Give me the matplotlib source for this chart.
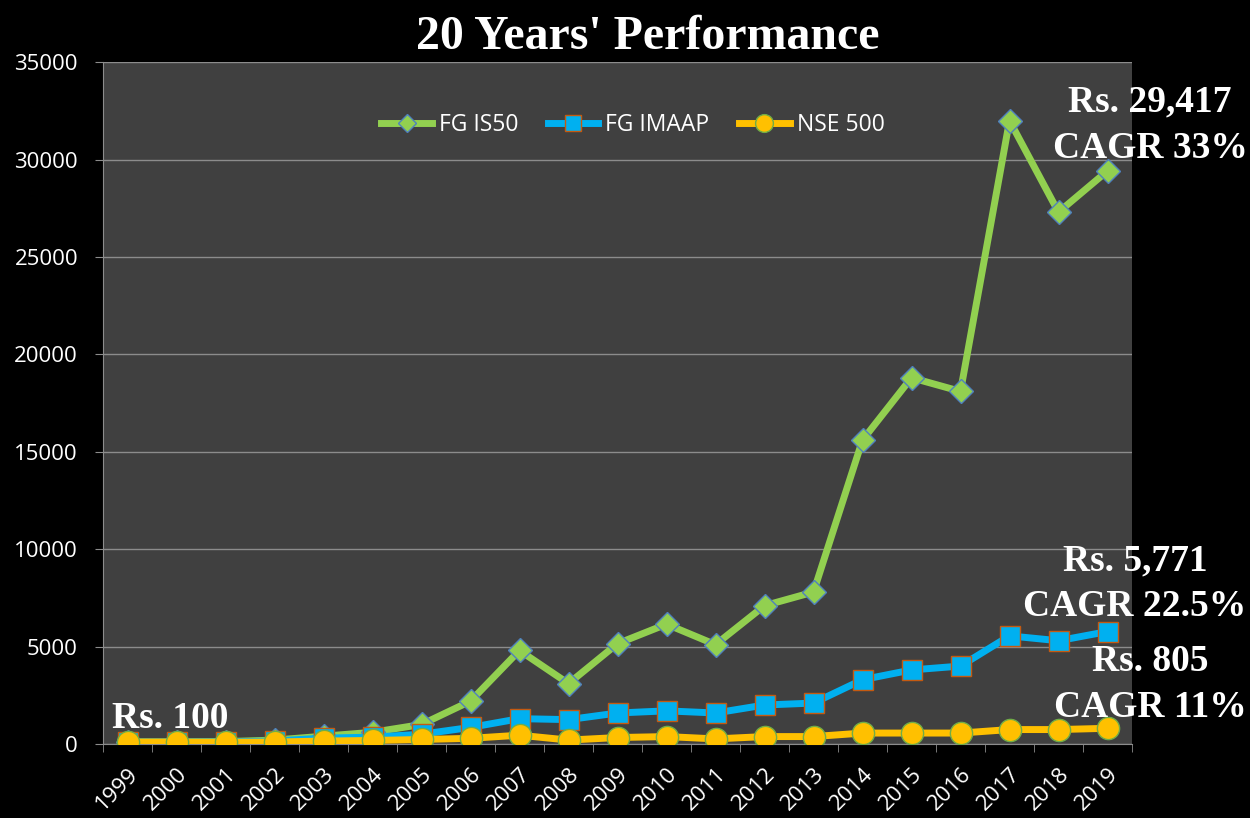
import numpy as np
import matplotlib.pyplot as plt
from matplotlib.ticker import FixedLocator

# ── Data ──────────────────────────────────────────────────────────────────────
years = [str(y) for y in range(1999, 2020)]
fg_is50 = [100, 100, 120, 200, 400, 600, 1000, 2200, 4800, 3100, 5150,
           6150, 5100, 7100, 7800, 15600, 18800, 18100, 32000, 27300, 29417]
fg_imaap = [100, 100, 110, 150, 300, 350, 500, 850, 1300, 1250, 1590,
            1700, 1590, 2000, 2100, 3300, 3800, 4000, 5550, 5300, 5771]
nse500 = [100, 100, 90, 100, 150, 180, 230, 290, 450, 200, 330,
          380, 260, 380, 380, 560, 560, 560, 740, 740, 805]

# ── Style ─────────────────────────────────────────────────────────────────────
GREEN, BLUE, YELLOW = "#92D050", "#00B0F0", "#FFC000"
BG_AX = "#404040"
plt.rcParams["font.family"] = ["Open Sans", "DejaVu Sans"]

fig = plt.figure(figsize=(12.5, 8.18), dpi=100, facecolor="black")
ax = fig.add_axes([0.0824, 0.0905, 0.8232, 0.8335], facecolor=BG_AX)

x = np.arange(len(years))
ax.plot(x, fg_is50, color=GREEN, lw=5, marker="D", ms=12, mfc=GREEN,
        mec="#4F81BD", mew=1, label="FG IS50", zorder=3)
ax.plot(x, fg_imaap, color=BLUE, lw=5, marker="s", ms=15, mfc=BLUE,
        mec="#C55A11", mew=1, label="FG IMAAP", zorder=4)
ax.plot(x, nse500, color=YELLOW, lw=5, marker="o", ms=16, mfc=YELLOW,
        mec="#70AD47", mew=1, label="NSE 500", zorder=5)

ax.set_xlim(-0.5, len(years) - 0.5)
ax.set_ylim(0, 35000)
ax.set_yticks(np.arange(0, 35001, 5000))
ax.yaxis.grid(True, color="#8C8C8C", lw=1)
ax.set_axisbelow(True)

ax.set_xticks(x)
ax.set_xticklabels(years, rotation=45, ha="right", rotation_mode="anchor",
                   color="white", fontsize=16)
ax.xaxis.set_minor_locator(FixedLocator(np.arange(-0.5, len(years), 1)))
ax.tick_params(axis="x", which="major", length=0, pad=14)
ax.tick_params(axis="x", which="minor", length=6, color="#8C8C8C")
ax.tick_params(axis="y", length=6, pad=12, color="#8C8C8C",
               labelcolor="white", labelsize=16)

for side in ["top", "right"]:
    ax.spines[side].set_visible(False)
for side in ["left", "bottom"]:
    ax.spines[side].set_color("#8C8C8C")

leg = ax.legend(loc="upper center", bbox_to_anchor=(0.515, 0.955), ncol=3,
                frameon=False, fontsize=16.5, labelcolor="white",
                handlelength=2.2, columnspacing=1.3, handletextpad=0.3,
                markerscale=0.8)

fig.text(0.518, 0.955, "20 Years' Performance", ha="center", va="center",
         color="white", fontsize=34.5, fontweight="bold",
         family="Liberation Serif")

ann = dict(color="white", fontsize=27, fontweight="bold",
           family="Liberation Serif", ha="center", va="center",
           multialignment="center", linespacing=1.4)
fig.text(0.920, 0.847, "Rs. 29,417\nCAGR 33%", **ann)
fig.text(0.908, 0.286, "Rs. 5,771\nCAGR 22.5%", **ann)
fig.text(0.920, 0.163, "Rs. 805\nCAGR 11%", **ann)
fig.text(0.136, 0.122, "Rs. 100", **ann)

fig.savefig("out.png", dpi=100, facecolor="black")
